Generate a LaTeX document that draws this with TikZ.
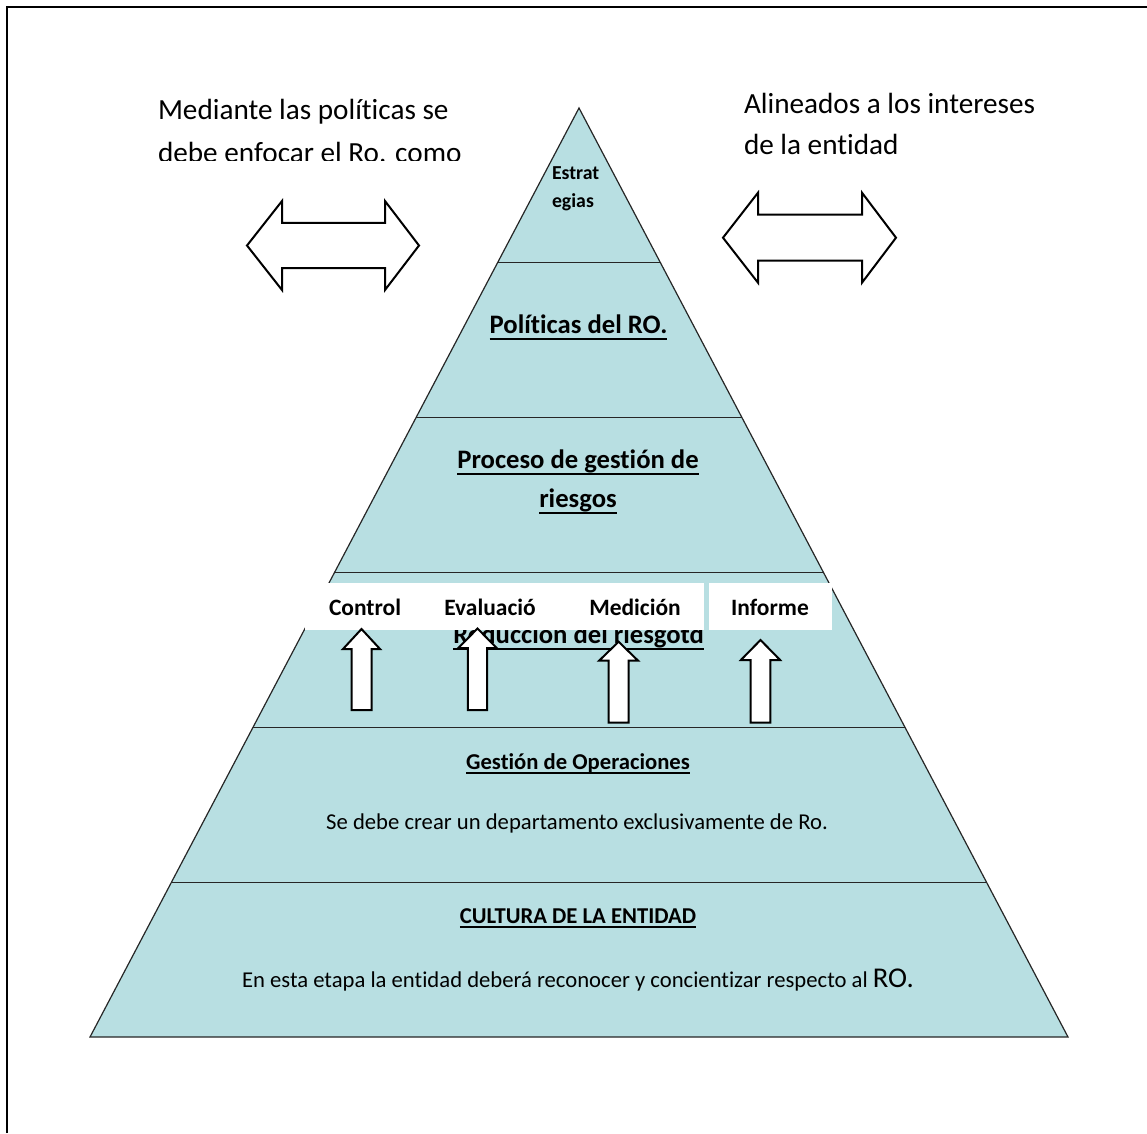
\documentclass[tikz,border=0pt]{standalone}
\usepackage{fontspec}
\setmainfont{Carlito}[Ligatures=NoCommon]
\usetikzlibrary{calc}
\definecolor{pyrfill}{RGB}{184,223,226}
\tikzset{
  blockarrow/.style={draw=black, fill=white, line width=1.5pt, line join=miter},
  band/.style={draw=black!85, line width=0.9pt},
  ulline/.style={draw=black, line width=1.45pt},
  txt/.style={inner sep=0pt, outer sep=0pt, anchor=base, text=black},
  bigtxt/.style={txt, font=\fontsize{21.9}{26}\selectfont, anchor=base west},
  boldlbl/.style={txt, font=\fontsize{20}{24}\selectfont\bfseries},
  smalllbl/.style={txt, font=\fontsize{17.6}{21}\selectfont\bfseries},
  midbold/.style={txt, font=\fontsize{17}{20}\selectfont\bfseries},
  midtxt/.style={txt, font=\fontsize{17}{20}\selectfont},
}
\newcommand{\myuparrow}[6]{%
  \draw[blockarrow] (#1,#2) -- (#1+#5,#3) -- (#1+#4,#3) -- (#1+#4,#6)
    -- (#1-#4,#6) -- (#1-#4,#3) -- (#1-#5,#3) -- cycle;}
\newcommand{\mydblarrow}[7]{%
  \draw[blockarrow] (#1,#5) -- (#3,#5-#6) -- (#3,#5-#7) -- (#4,#5-#7) -- (#4,#5-#6)
    -- (#2,#5) -- (#4,#5+#6) -- (#4,#5+#7) -- (#3,#5+#7) -- (#3,#5+#6) -- cycle;}
\newcommand{\myunderline}[2]{%
  \draw[ulline] ([yshift=-#2]#1.base west) -- ([yshift=-#2]#1.base east);}
\begin{document}
\begin{tikzpicture}[x=0.75pt,y=-0.75pt]
\useasboundingbox (0,0) rectangle (1147,1133);
% frame
\draw[line width=1.5pt] (6.5,1133) -- (6.5,6.5) -- (1147,6.5);
% pyramid
\coordinate (apex) at (579,108);
\coordinate (bl) at (90,1037);
\coordinate (br) at (1068,1037);
\fill[pyrfill] (apex) -- (bl) -- (br) -- cycle;
\draw[band] (apex) -- (bl) -- (br) -- cycle;
\foreach \t in {1,2,3,4,5}{
  \draw[band] ($(apex)!\t/6!(bl)$) -- ($(apex)!\t/6!(br)$);
}
% top texts
\node[bigtxt] (tl1) at (158,119) {Mediante las políticas se};
\begin{scope}
\clip (140,60) rectangle (500,160);
\node[bigtxt] (tl2) at (158,162) {debe enfocar el Ro. como};
\end{scope}
\node[bigtxt] (tr1) at (744,113) {Alineados a los intereses};
\node[bigtxt] (tr2) at (744,154) {de la entidad};
% double arrows
\mydblarrow{247}{419}{282}{385}{245.5}{44.5}{22.7}
\mydblarrow{723}{896}{758}{862}{237.7}{45}{23}
% level texts
\node[txt, font=\fontsize{14.85}{18}\selectfont\bfseries, anchor=base west] (est1) at (552,179) {Estrat};
\node[txt, font=\fontsize{14.85}{18}\selectfont\bfseries, anchor=base west] (est2) at (552,207) {egias};
\node[boldlbl] (pol) at (578.5,333) {Políticas del RO.};
\myunderline{pol}{4.5pt}
\node[boldlbl] (proc1) at (578,468) {Proceso de gestión de};
\myunderline{proc1}{4.5pt}
\node[boldlbl] (proc2) at (578,507) {riesgos};
\myunderline{proc2}{4.5pt}
\node[boldlbl] (red) at (578.6,643) {Reducción del riesgotd};
\myunderline{red}{4.5pt}
% white label boxes
\fill[white] (305,583) rectangle (703.6,629.5);
\fill[white] (708.6,583) rectangle (832,629.5);
\node[smalllbl] (ctl) at (365,615) {Control};
\node[smalllbl] (eva) at (490,615) {Evaluació};
\node[smalllbl] (med) at (635,615) {Medición};
\node[smalllbl] (inf) at (770,615) {Informe};
% up arrows
\myuparrow{361.5}{629}{649}{10}{18.5}{710}
\myuparrow{477.5}{628.5}{648}{9.6}{19.2}{710}
\myuparrow{618.6}{641.7}{660.7}{10}{19.5}{722.7}
\myuparrow{760.5}{640}{660}{9.8}{19.6}{722.7}
% lower levels
\node[midbold] (gop) at (578,769) {Gestión de Operaciones};
\myunderline{gop}{3.3pt}
\node[midtxt] (gopt) at (577,829) {Se debe crear un departamento exclusivamente de Ro.};
\node[midbold] (cul) at (578,923) {CULTURA DE LA ENTIDAD};
\myunderline{cul}{3.3pt}
\node[midtxt] (cult) at (578,987) {En esta etapa la entidad deberá reconocer y concientizar respecto al {\fontsize{21.5}{24}\selectfont RO.}};
\end{tikzpicture}
\end{document}
